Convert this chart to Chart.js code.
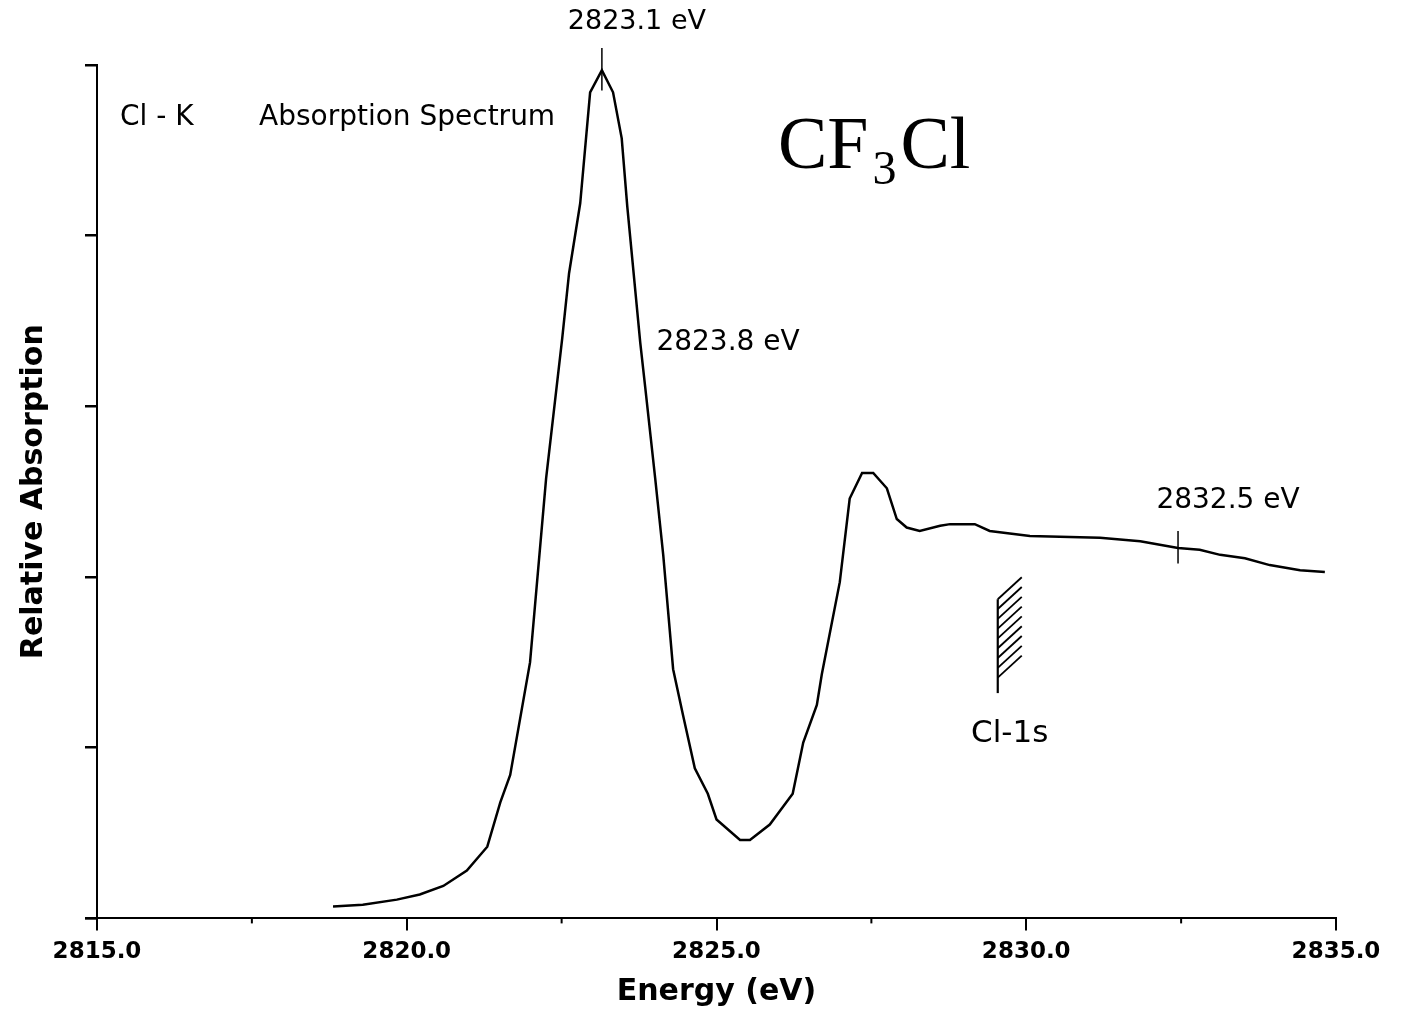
<!DOCTYPE html>
<html>
<head>
<meta charset="utf-8">
<script src="https://cdn.jsdelivr.net/npm/chart.js@4.4.1/dist/chart.umd.min.js"></script>
<style>
  html, body { margin: 0; padding: 0; background: #fff; }
  #wrap { width: 1401px; height: 1012px; position: relative; }
</style>
</head>
<body>
<div id="wrap"><canvas id="chart"></canvas></div>
<script>
// Cl K-edge absorption of CF3Cl
const energy = [
  2818.81, 2819.29, 2819.84, 2820.21, 2820.59, 2820.97, 2821.30, 2821.51,
  2821.67, 2821.99, 2822.25, 2822.51, 2822.62, 2822.80, 2822.96, 2823.15,
  2823.33, 2823.47, 2823.56, 2823.77, 2823.85, 2824.01, 2824.14, 2824.30,
  2824.46, 2824.65, 2824.86, 2825.00, 2825.38, 2825.54, 2825.86, 2826.23,
  2826.40, 2826.62, 2826.70, 2826.99, 2827.15, 2827.35, 2827.53, 2827.75,
  2827.91, 2828.07, 2828.28, 2828.61, 2828.77, 2829.17, 2829.41, 2830.06,
  2831.19, 2831.84, 2832.45, 2832.80, 2833.13, 2833.53, 2833.93, 2834.42,
  2834.82
];
const absorption = [
  0.07, 0.08, 0.11, 0.14, 0.19, 0.28, 0.42, 0.68,
  0.84, 1.50, 2.58, 3.40, 3.78, 4.19, 4.84, 4.97,
  4.84, 4.57, 4.17, 3.37, 3.11, 2.58, 2.13, 1.46,
  1.19, 0.88, 0.73, 0.58, 0.46, 0.46, 0.55, 0.73,
  1.03, 1.25, 1.43, 1.97, 2.46, 2.61, 2.61, 2.52,
  2.34, 2.29, 2.27, 2.30, 2.31, 2.31, 2.27, 2.24,
  2.23, 2.21, 2.17, 2.16, 2.13, 2.11, 2.07, 2.04,
  2.03
];
const xTicks = [2815, 2820, 2825, 2830, 2835];
const yTicks = [0, 1, 2, 3, 4, 5];
const peakLabels = ['2823.1 eV', '2823.8 eV', '2832.5 eV'];
const peakEnergy = [2823.15, 2824.03, 2832.45];
const edgeEnergy = 2829.54;   // Cl-1s ionisation threshold
const edgeLabel = 'Cl-1s';

const FONT = '"DejaVu Sans", "Liberation Sans", sans-serif';
const SERIF = '"Liberation Serif", "DejaVu Serif", serif';

const annotate = {
  id: 'annotate',
  afterDraw(chart) {
    const { ctx } = chart;
    const x = chart.scales.x, y = chart.scales.y;
    ctx.save();
    ctx.strokeStyle = '#000';
    ctx.fillStyle = '#000';
    ctx.lineWidth = 2;

    // minor ticks between labelled energies
    for (let i = 0; i < xTicks.length - 1; i++) {
      const px = x.getPixelForValue((xTicks[i] + xTicks[i + 1]) / 2);
      ctx.beginPath();
      ctx.moveTo(px, y.bottom);
      ctx.lineTo(px, y.bottom + 5);
      ctx.stroke();
    }
    // little stub of the x axis left of the y axis
    ctx.beginPath();
    ctx.moveTo(x.left - 12, y.bottom);
    ctx.lineTo(x.left, y.bottom);
    ctx.stroke();

    ctx.textBaseline = 'middle';

    // peak marker at 2823.1 eV
    const p0 = x.getPixelForValue(peakEnergy[0]);
    ctx.lineWidth = 1.5;
    ctx.beginPath();
    ctx.moveTo(p0, y.getPixelForValue(4.85));
    ctx.lineTo(p0, y.top - 17);
    ctx.stroke();
    ctx.font = '27px ' + FONT;
    ctx.textAlign = 'center';
    ctx.fillText(peakLabels[0], p0 + 35, 22);

    // shoulder label
    ctx.font = '28px ' + FONT;
    ctx.textAlign = 'left';
    ctx.fillText(peakLabels[1], x.getPixelForValue(peakEnergy[1]), y.getPixelForValue(3.37));

    // marker at 2832.5 eV
    const p2 = x.getPixelForValue(peakEnergy[2]);
    ctx.beginPath();
    ctx.moveTo(p2, y.getPixelForValue(2.27));
    ctx.lineTo(p2, y.getPixelForValue(2.08));
    ctx.stroke();
    ctx.textAlign = 'center';
    ctx.fillText(peakLabels[2], p2 + 50, y.getPixelForValue(2.45));

    // hatched ionisation threshold
    const ex = x.getPixelForValue(edgeEnergy);
    const eTop = y.getPixelForValue(1.87), eBot = y.getPixelForValue(1.32);
    ctx.lineWidth = 2.2;
    ctx.beginPath();
    ctx.moveTo(ex, eTop);
    ctx.lineTo(ex, eBot);
    ctx.stroke();
    ctx.lineWidth = 1.8;
    for (let k = 0; k < 9; k++) {
      const sy = eTop + k * 9.8;
      ctx.beginPath();
      ctx.moveTo(ex, sy);
      ctx.lineTo(ex + 24, sy - 22);
      ctx.stroke();
    }
    ctx.font = '31px ' + FONT;
    ctx.fillText(edgeLabel, ex + 12, y.getPixelForValue(1.08));

    // title text
    ctx.textAlign = 'left';
    ctx.font = '28px ' + FONT;
    ctx.fillText('Cl - K', 120, 118);
    ctx.fillText('Absorption Spectrum', 259, 118);

    ctx.textBaseline = 'alphabetic';
    ctx.font = '74px ' + SERIF;
    let cx = 778;
    ctx.fillText('CF', cx, 168);
    cx += ctx.measureText('CF').width + 4;
    ctx.font = '48px ' + SERIF;
    ctx.fillText('3', cx, 184);
    cx += ctx.measureText('3').width + 4;
    ctx.font = '74px ' + SERIF;
    ctx.fillText('Cl', cx, 168);
    ctx.restore();
  }
};

new Chart(document.getElementById('chart'), {
  type: 'line',
  data: {
    datasets: [{
      data: energy.map((e, i) => ({ x: e, y: absorption[i] })),
      borderColor: '#000',
      borderWidth: 2.5,
      pointRadius: 0,
      tension: 0,
      fill: false
    }]
  },
  options: {
    responsive: true,
    maintainAspectRatio: false,
    animation: false,
    layout: { padding: { left: 10, right: 65, top: 65, bottom: 0 } },
    plugins: { legend: { display: false }, tooltip: { enabled: false } },
    scales: {
      x: {
        type: 'linear',
        min: xTicks[0],
        max: xTicks[xTicks.length - 1],
        afterBuildTicks: (s) => { s.ticks = xTicks.map(v => ({ value: v })); },
        border: { display: true, color: '#000', width: 2 },
        grid: { drawOnChartArea: false, drawTicks: true, tickLength: 12, color: '#000', lineWidth: 2 },
        ticks: {
          padding: 8,
          color: '#000',
          font: { family: FONT, size: 23, weight: 'bold' },
          callback: (v) => Number(v).toFixed(1)
        },
        title: {
          display: true,
          text: 'Energy (eV)',
          color: '#000',
          font: { family: FONT, size: 30, weight: 'bold' },
          padding: { top: 0, bottom: 2 }
        }
      },
      y: {
        type: 'linear',
        min: yTicks[0],
        max: yTicks[yTicks.length - 1],
        afterBuildTicks: (s) => { s.ticks = yTicks.map(v => ({ value: v })); },
        border: { display: true, color: '#000', width: 2 },
        grid: { drawOnChartArea: false, drawTicks: true, tickLength: 12, color: '#000', lineWidth: 2.5 },
        ticks: { display: false },
        title: {
          display: true,
          text: 'Relative Absorption',
          color: '#000',
          font: { family: FONT, size: 30, weight: 'bold' },
          padding: { top: 6, bottom: 33 }
        }
      }
    }
  },
  plugins: [annotate]
});
</script>
</body>
</html>
